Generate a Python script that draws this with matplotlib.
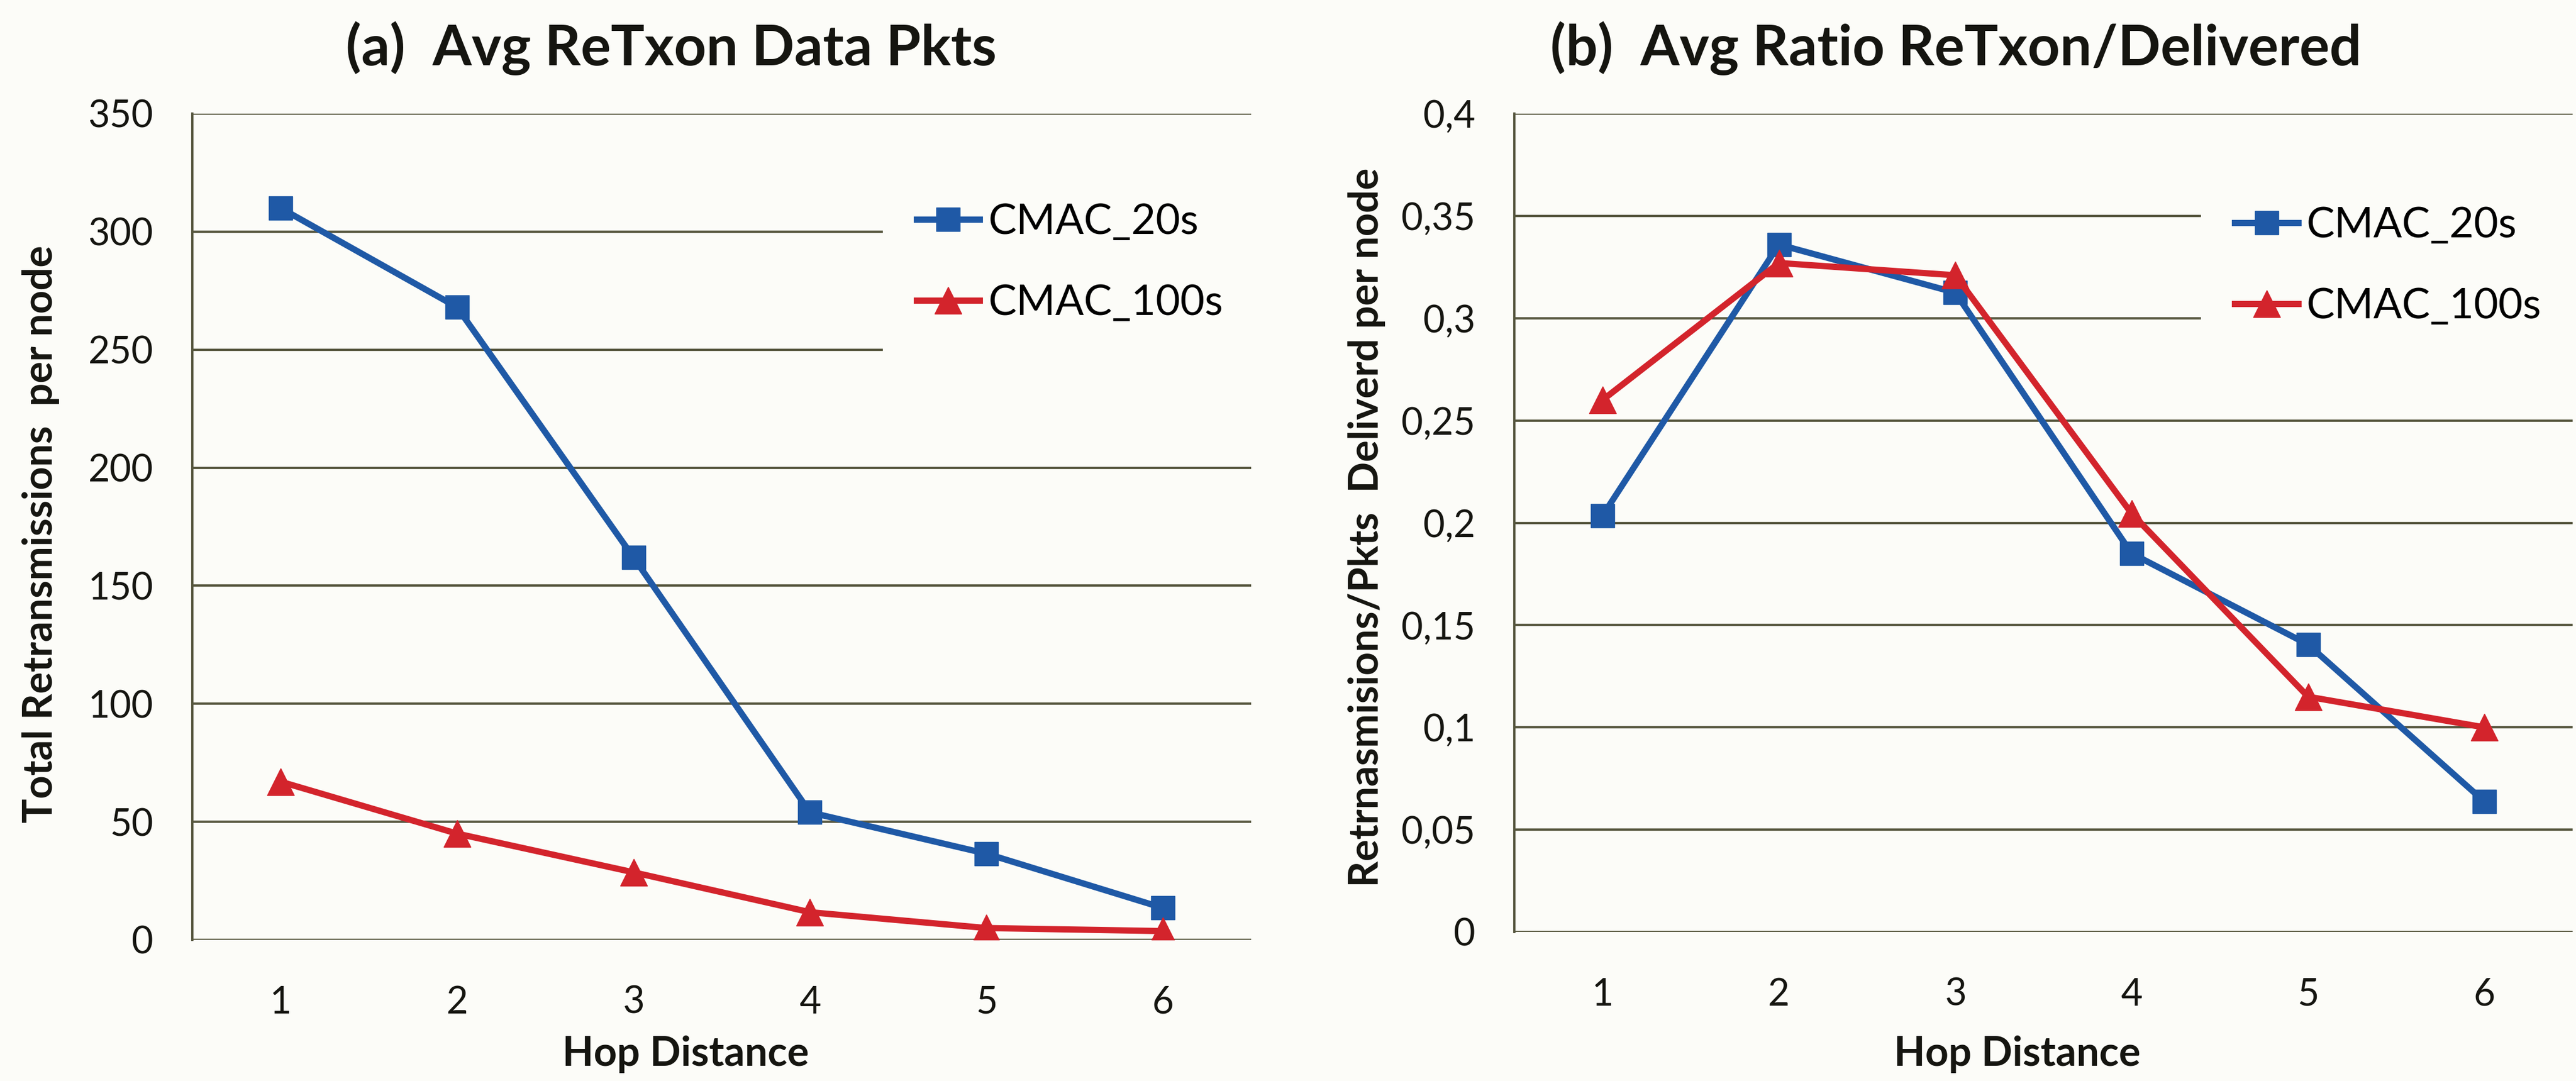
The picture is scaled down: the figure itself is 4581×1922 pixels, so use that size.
import matplotlib
matplotlib.use("Agg")
import matplotlib.pyplot as plt

# hop distance on the x axis
hops = [1, 2, 3, 4, 5, 6]

# (a) average retransmitted data packets per node
retx_20s = [310, 268, 162, 54, 36.5, 13.5]
retx_100s = [67, 45, 28.6, 11.7, 5.0, 3.7]

# (b) ratio retransmissions / delivered packets
ratio_20s = [0.2035, 0.336, 0.3125, 0.185, 0.1405, 0.0637]
ratio_100s = [0.260, 0.327, 0.321, 0.2045, 0.115, 0.100]

yticks_a = [0, 50, 100, 150, 200, 250, 300, 350]
yticks_b = [0, 0.05, 0.1, 0.15, 0.2, 0.25, 0.3, 0.35, 0.4]
yticklabels_b = ["0", "0,05", "0,1", "0,15", "0,2", "0,25", "0,3", "0,35", "0,4"]

plt.rcParams["font.family"] = ["Lato", "DejaVu Sans"]

W, H = 4581, 1922
fig = plt.figure(figsize=(W / 100, H / 100), dpi=100)
fig.patch.set_facecolor("#fcfcf8")

blue = "#1f59a6"
red = "#d3242c"
grid = "#57573f"
txt = "#151510"


def setup(ax, yticks, ylabels, ymax):
    ax.set_facecolor("none")
    ax.set_xlim(0.5, 6.5)
    ax.set_ylim(0, ymax)
    ax.set_yticks(yticks)
    ax.set_yticklabels(ylabels)
    ax.set_xticks(hops)
    ax.set_xticklabels([str(h) for h in hops])
    for s in ["top", "right", "bottom"]:
        ax.spines[s].set_visible(False)
    ax.spines["left"].set_color(grid)
    ax.spines["left"].set_linewidth(3)
    ax.tick_params(axis="both", length=0, labelsize=48, colors=txt)
    ax.tick_params(axis="y", pad=50)
    ax.tick_params(axis="x", pad=58)
    for t in yticks:
        ax.axhline(t, color=grid, lw=3, zorder=1)


def px(x0, y0, x1, y1):
    # convert pixel box to figure fraction
    return [x0 / W, 1 - y1 / H, (x1 - x0) / W, (y1 - y0) / H]


# ---- panel (a)
ax1 = fig.add_axes(px(342, 202, 2225, 1671))
setup(ax1, yticks_a, [str(v) for v in yticks_a], 350)
ax1.plot(hops, retx_20s, color=blue, lw=8, marker="s", ms=30, label="CMAC_20s", zorder=3)
ax1.plot(hops, retx_100s, color=red, lw=8, marker="^", ms=34, label="CMAC_100s", zorder=3)
leg1 = ax1.legend(loc="center left", bbox_to_anchor=(0.652, 0.82), frameon=True,
                  fontsize=54, handlelength=1.5, handletextpad=0.2, labelspacing=1.0,
                  borderpad=0.8, borderaxespad=0, fancybox=False)
leg1.get_frame().set_facecolor("#fcfcf8")
leg1.get_frame().set_edgecolor("none")
leg1.get_frame().set_alpha(1)
leg1.set_zorder(2)

fig.text(1194 / W, 1 - 86 / H, "(a)  Avg ReTxon Data Pkts", ha="center", va="center",
         fontsize=72, fontweight="bold", color=txt)
fig.text(73 / W, 1 - 950 / H, "Total Retransmissions  per node", ha="center", va="center",
         rotation=90, fontsize=52, fontweight="bold", color=txt)
fig.text(1219 / W, 1 - 1875 / H, "Hop Distance", ha="center", va="center",
         fontsize=52, fontweight="bold", color=txt)

# ---- panel (b)
ax2 = fig.add_axes(px(2693, 202, 4575, 1657))
setup(ax2, yticks_b, yticklabels_b, 0.4)
ax2.plot(hops, ratio_20s, color=blue, lw=8, marker="s", ms=30, label="CMAC_20s", zorder=3)
ax2.plot(hops, ratio_100s, color=red, lw=8, marker="^", ms=34, label="CMAC_100s", zorder=3)
leg2 = ax2.legend(loc="center left", bbox_to_anchor=(0.649, 0.814), frameon=True,
                  fontsize=54, handlelength=1.5, handletextpad=0.2, labelspacing=1.0,
                  borderpad=0.8, borderaxespad=0, fancybox=False)
leg2.get_frame().set_facecolor("#fcfcf8")
leg2.get_frame().set_edgecolor("none")
leg2.get_frame().set_alpha(1)
leg2.set_zorder(2)

fig.text(3478 / W, 1 - 86 / H, "(b)  Avg Ratio ReTxon/Delivered", ha="center", va="center",
         fontsize=72, fontweight="bold", color=txt)
fig.text(2431 / W, 1 - 938 / H, "Retrnasmisions/Pkts  Deliverd per node", ha="center",
         va="center", rotation=90, fontsize=52, fontweight="bold", color=txt)
fig.text(3587 / W, 1 - 1875 / H, "Hop Distance", ha="center", va="center",
         fontsize=52, fontweight="bold", color=txt)

fig.savefig("out.png", dpi=100, facecolor=fig.get_facecolor())
